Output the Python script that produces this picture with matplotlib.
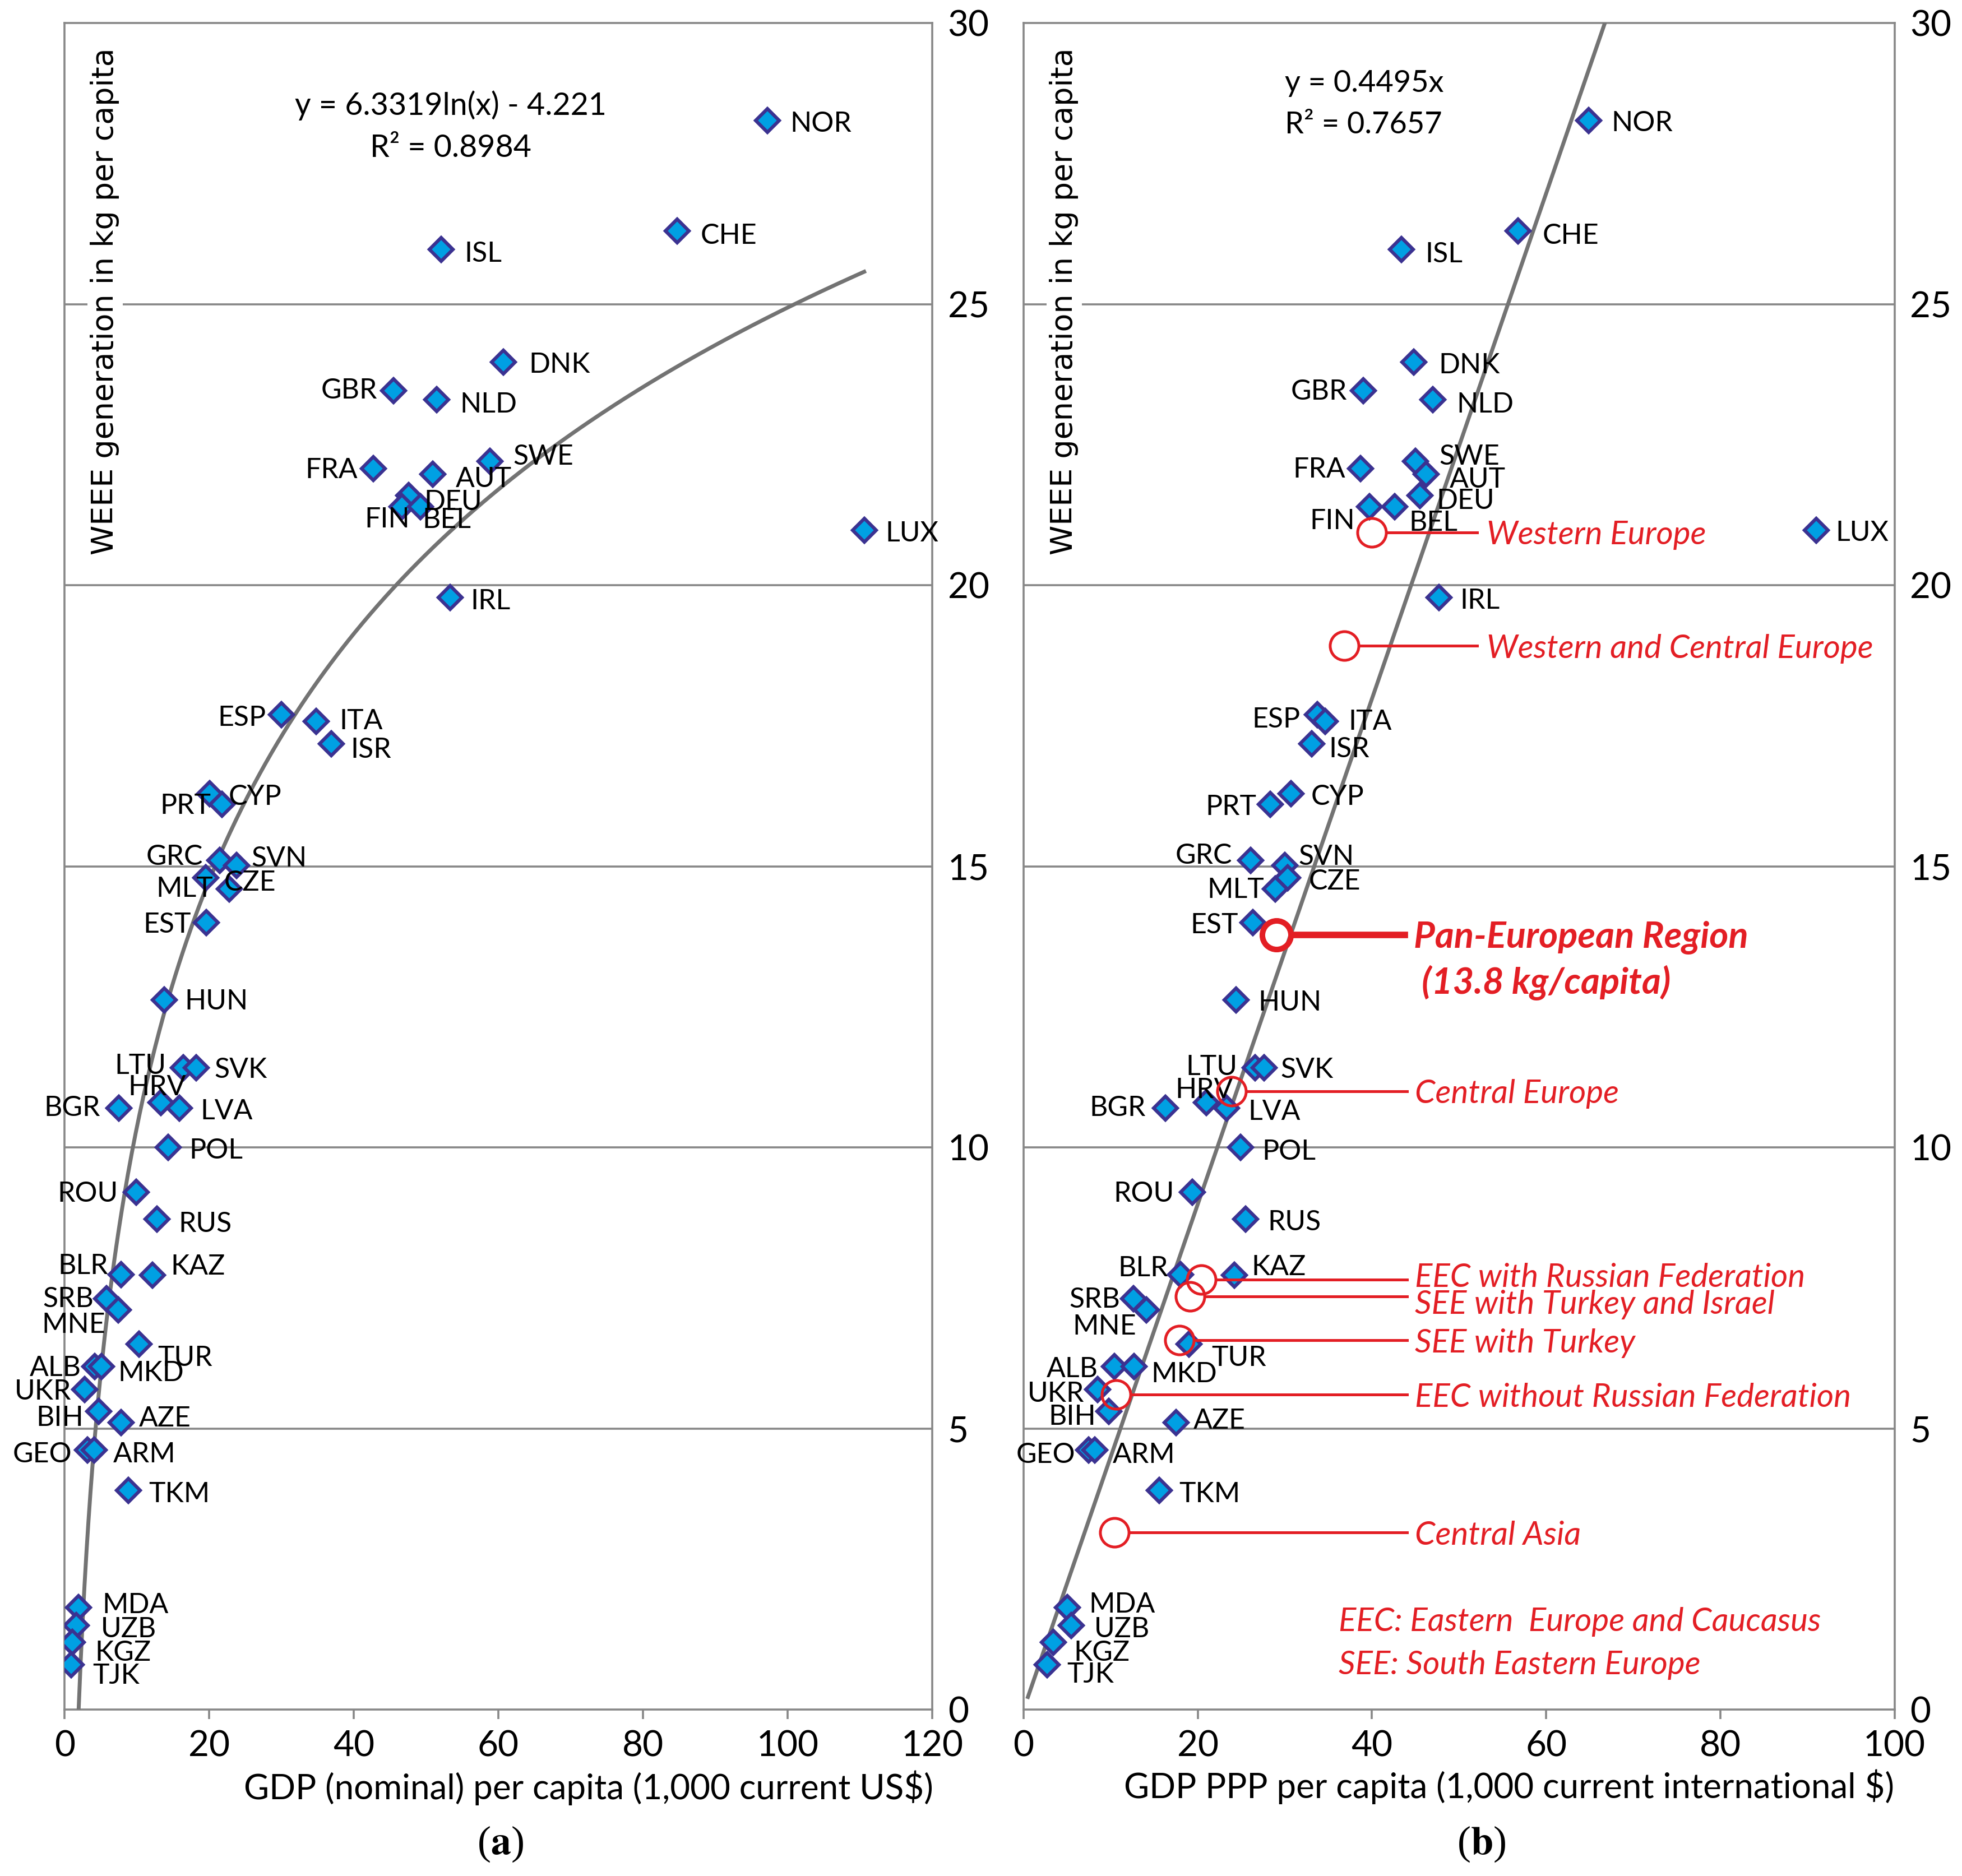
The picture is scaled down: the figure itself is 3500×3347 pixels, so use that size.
import numpy as np
import matplotlib.pyplot as plt

# WEEE per capita vs GDP, (a) nominal and (b) PPP
countries = ['NOR', 'CHE', 'ISL', 'DNK', 'GBR', 'NLD', 'SWE', 'FRA', 'AUT', 'DEU',
             'FIN', 'BEL', 'LUX', 'IRL', 'ESP', 'ITA', 'ISR', 'CYP', 'PRT', 'GRC',
             'SVN', 'CZE', 'MLT', 'EST', 'HUN', 'LTU', 'SVK', 'HRV', 'LVA', 'BGR',
             'POL', 'ROU', 'RUS', 'BLR', 'KAZ', 'SRB', 'MNE', 'TUR', 'ALB', 'MKD',
             'UKR', 'BIH', 'AZE', 'GEO', 'ARM', 'TKM', 'MDA', 'UZB', 'KGZ', 'TJK']
weee = [28.27, 26.3, 25.97, 23.97, 23.46, 23.3, 22.2, 22.08, 21.98, 21.6,
        21.4, 21.4, 20.98, 19.78, 17.7, 17.58, 17.18, 16.29, 16.1, 15.11,
        15.02, 14.8, 14.6, 14.0, 12.62, 11.42, 11.42, 10.8, 10.7, 10.7,
        10.0, 9.2, 8.73, 7.74, 7.73, 7.31, 7.11, 6.5, 6.1, 6.1,
        5.69, 5.31, 5.11, 4.62, 4.62, 3.9, 1.82, 1.5, 1.2, 0.8]
gdp_nominal = [97.2, 84.7, 52.1, 60.7, 45.5, 51.5, 58.8, 42.7, 50.9, 47.6,
               46.7, 49.2, 110.6, 53.3, 30.0, 34.8, 36.9, 20.1, 21.8, 21.5,
               23.8, 19.5, 22.8, 19.6, 13.8, 16.4, 18.2, 13.3, 15.9, 7.5,
               14.3, 9.9, 12.8, 7.8, 12.2, 5.8, 7.4, 10.3, 4.2, 5.1,
               2.8, 4.7, 7.8, 3.2, 4.1, 8.8, 1.9, 1.6, 1.1, 0.9]
gdp_ppp = [64.9, 56.8, 43.4, 44.8, 39.0, 47.0, 45.0, 38.7, 46.2, 45.5,
           39.7, 42.6, 91.0, 47.7, 33.7, 34.6, 33.1, 30.7, 28.3, 26.1,
           30.0, 30.3, 28.9, 26.3, 24.4, 26.6, 27.6, 21.0, 23.3, 16.3,
           24.9, 19.4, 25.5, 18.0, 24.2, 12.6, 14.1, 19.0, 10.4, 12.7,
           8.5, 9.8, 17.5, 7.5, 8.2, 15.6, 5.0, 5.5, 3.4, 2.7]

# regional averages (panel b)
regions = ['Western Europe', 'Western and Central Europe', 'Pan-European Region',
           'Central Europe', 'EEC with Russian Federation', 'SEE with Turkey and Israel',
           'SEE with Turkey', 'EEC without Russian Federation', 'Central Asia']
region_ppp = [40.0, 36.8, 29.0, 23.9, 20.4, 19.1, 17.9, 10.6, 10.4]
region_weee = [20.94, 18.92, 13.78, 11.0, 7.65, 7.35, 6.57, 5.60, 3.15]

# fitted trend lines
log_a, log_b = 6.3319, -4.221
lin_a = 0.4495

# label offsets in points (dx, dy, ha)
off_a = {'NOR': (14.5, -1.3), 'CHE': (15.3, -2.3), 'ISL': (14.9, -2), 'DNK': (16.5, -1),
         'GBR': (-10.5, 1), 'NLD': (14.9, -2.5), 'SWE': (14.9, 3.8), 'FRA': (-10, -0.5),
         'AUT': (14.9, -2.5), 'DEU': (10, -3.5), 'FIN': (4.8, -7.6, 'right'), 'BEL': (1.2, -8),
         'LUX': (13.7, -1.3), 'IRL': (13.3, -1.8), 'ESP': (-10, -1.3), 'ITA': (14.9, 0.8),
         'ISR': (12.5, -3.3), 'CYP': (12, -1.3), 'PRT': (-7.2, 0), 'GRC': (-10.9, 3),
         'SVN': (9.6, 5), 'CZE': (12, -2.5), 'MLT': (-10.5, 0.8), 'EST': (-9.6, -0.5),
         'HUN': (12.9, 0), 'LTU': (-10.9, 1.8), 'SVK': (11.7, -0.8), 'HRV': (-2.4, 10.6, 'center'),
         'LVA': (13.3, -1.3), 'BGR': (-12, 0.8), 'POL': (13.7, -1.3), 'ROU': (-11.7, 0),
         'RUS': (13.7, -2.5), 'BLR': (-8.4, 6), 'KAZ': (11.3, 6), 'SRB': (-8, 0.5),
         'MNE': (-8, -9), 'TUR': (12, -8), 'ALB': (-8.8, 0), 'MKD': (10.5, -3.4),
         'UKR': (-8.8, -0.5), 'BIH': (-9.6, -3.7), 'AZE': (11.7, 3.2), 'GEO': (-10, -2),
         'ARM': (12, -2), 'TKM': (13.3, -1.8), 'MDA': (15.3, 2), 'UZB': (16, -2),
         'KGZ': (14.5, -6), 'TJK': (14, -6.6)}
off_b = {'NOR': (14.5, -1.2), 'CHE': (15.7, -2.4), 'ISL': (15.3, -2.4), 'DNK': (16, -1.2),
         'GBR': (-10.5, 0), 'NLD': (15.3, -2.4), 'SWE': (15.3, 4), 'FRA': (-9.7, 0),
         'AUT': (15, -2.8), 'DEU': (10.5, -2.8), 'FIN': (-9.3, -8.8), 'BEL': (9.3, -9.6),
         'LUX': (12.5, -1.2), 'IRL': (13.3, -1.2), 'ESP': (-10.9, -2.4), 'ITA': (14.9, 0.4),
         'ISR': (10.9, -2.8), 'CYP': (12.9, -1.2), 'PRT': (-8.8, -0.8), 'GRC': (-12, 3.6),
         'SVN': (8.8, 6), 'CZE': (13.7, -2), 'MLT': (-7.2, 0), 'EST': (-9.3, -1.2),
         'HUN': (14, -0.8), 'LTU': (-11.3, 1.2), 'SVK': (10.5, -0.8), 'HRV': (-1.6, 8.8, 'center'),
         'LVA': (13.7, -1.6), 'BGR': (-12.9, 0.8), 'POL': (14, -2), 'ROU': (-11.7, 0),
         'RUS': (14, -1.6), 'BLR': (-8, 4.8), 'KAZ': (10.9, 5.6), 'SRB': (-8.4, 0),
         'MNE': (-6.4, -10), 'TUR': (14.5, -8), 'ALB': (-10.5, -0.8), 'MKD': (10.9, -4),
         'UKR': (-8.4, -2), 'BIH': (-8.4, -2.8), 'AZE': (11.3, 1.6), 'GEO': (-8.8, -2.4),
         'ARM': (11.3, -2.4), 'TKM': (12.5, -1.6), 'MDA': (14, 2.4), 'UZB': (14.5, -2),
         'KGZ': (13.3, -6), 'TJK': (12.9, -5.6)}

plt.rcParams['font.family'] = ['Lato', 'DejaVu Sans']
plt.rcParams['mathtext.fontset'] = 'stix'

GRAY = '#878787'
TREND = '#737373'
RED = '#E31E24'
FACE = '#00A0E3'
EDGE = '#3B3291'

fig = plt.figure(figsize=(17.5, 16.735), dpi=200)
ax_a = fig.add_axes([0.0329, 0.0887, 0.4422, 0.899])
ax_b = fig.add_axes([0.5217, 0.0887, 0.4439, 0.899])


def style_axes(ax, xmax):
    ax.set_xlim(0, xmax)
    ax.set_ylim(0, 30)
    ax.set_xticks(np.arange(0, xmax + 1, 20))
    ax.set_yticks([0, 5, 10, 15, 20, 25, 30])
    ax.yaxis.tick_right()
    for s in ax.spines.values():
        s.set_color(GRAY)
        s.set_linewidth(1.3)
    ax.tick_params(axis='x', direction='out', length=6, width=1.3, color=GRAY,
                   labelsize=23, pad=7)
    ax.tick_params(axis='y', length=0, labelsize=23, pad=10)
    for yv in [5, 10, 15, 20, 25]:
        ax.axhline(yv, color=GRAY, lw=1.3, zorder=1)
    ax.text(0.0465, 0.835, 'WEEE generation in kg per capita', transform=ax.transAxes,
            rotation=90, ha='center', va='center', fontsize=19.4, family='DejaVu Sans',
            bbox=dict(fc='white', ec='none', pad=2), zorder=2)


def label_points(ax, xs, offs):
    for c, x, y in zip(countries, xs, weee):
        o = offs[c]
        ha = o[2] if len(o) > 2 else ('left' if o[0] > 0 else 'right')
        ax.annotate(c, (x, y), xytext=(o[0], o[1] - 0.8), textcoords='offset points',
                    ha=ha, va='center', fontsize=18, zorder=6)


style_axes(ax_a, 120)
style_axes(ax_b, 100)

# panel a: log trend
xs = np.linspace(np.exp(-log_b / log_a), max(gdp_nominal), 400)
ax_a.plot(xs, log_a * np.log(xs) + log_b, color=TREND, lw=2.5, zorder=3)
ax_a.plot(gdp_nominal, weee, 'D', ms=10.7, mfc=FACE, mec=EDGE, mew=2.2, zorder=5)
label_points(ax_a, gdp_nominal, off_a)
ax_a.text(53.4, 28.53, 'y = 6.3319ln(x) - 4.221', ha='center', va='center', fontsize=20)
ax_a.text(53.4, 27.77, 'R² = 0.8984', ha='center', va='center', fontsize=20)

# panel b: linear trend
xl = np.array([0.5, 30 / lin_a])
ax_b.plot(xl, lin_a * xl, color=TREND, lw=2.5, zorder=3)
ax_b.plot(gdp_ppp, weee, 'D', ms=10.7, mfc=FACE, mec=EDGE, mew=2.2, zorder=5)
label_points(ax_b, gdp_ppp, off_b)
ax_b.text(30.0, 28.93, 'y = 0.4495x', ha='left', va='center', fontsize=19.5)
ax_b.text(30.0, 28.19, 'R² = 0.7657', ha='left', va='center', fontsize=19.5)

# regional averages
for i, (name, x, y) in enumerate(zip(regions, region_ppp, region_weee)):
    pan = name.startswith('Pan')
    if i < 2:
        x_end, x_txt = 52.1, 53.2
    elif pan:
        x_end, x_txt = 43.8, 44.8
    else:
        x_end, x_txt = 44.0, 44.9
    ax_b.plot([x + 1.8, x_end], [y, y], color=RED, lw=4.2 if pan else 1.8, zorder=6)
    ax_b.plot(x, y, 'o', ms=18.4, mfc='none', mec=RED, mew=3.6 if pan else 1.8, zorder=7)
    if pan:
        ax_b.text(x_txt, y - 0.05, name, color=RED, fontsize=23.5, style='italic',
                  weight='bold', ha='left', va='center', zorder=7)
        ax_b.text(x_txt, y - 0.85, ' (13.8 kg/capita)', color=RED, fontsize=23.5,
                  style='italic', weight='bold', ha='left', va='center', zorder=7)
    else:
        dy = {'EEC with Russian Federation': 0.08, 'SEE with Turkey and Israel': -0.1}.get(name, 0)
        ax_b.text(x_txt, y + dy - 0.05, name, color=RED, fontsize=21, style='italic',
                  ha='left', va='center', zorder=7)

ax_b.text(36.2, 1.56, 'EEC: Eastern  Europe and Caucasus', color=RED, fontsize=21,
          style='italic', ha='left', va='center')
ax_b.text(36.2, 0.79, 'SEE: South Eastern Europe', color=RED, fontsize=21,
          style='italic', ha='left', va='center')

fig.text(1665 / 3500, 1 - 3190 / 3347, 'GDP (nominal) per capita (1,000 current US$)',
         ha='right', va='center', fontsize=22.3)
fig.text(3379 / 3500, 1 - 3188 / 3347, 'GDP PPP per capita (1,000 current international $)',
         ha='right', va='center', fontsize=22.3)
fig.text(0.255, 1 - 3290 / 3347, r'($\mathbf{a}$)', ha='center', va='center',
         fontsize=26, family='Liberation Serif')
fig.text(0.755, 1 - 3290 / 3347, r'($\mathbf{b}$)', ha='center', va='center',
         fontsize=26, family='Liberation Serif')

fig.savefig('out.png', dpi=200, facecolor='white')
